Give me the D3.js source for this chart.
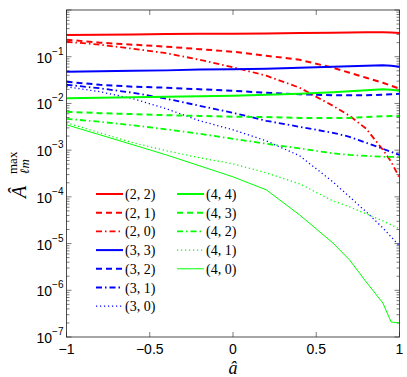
<!DOCTYPE html>
<html>
<head>
<meta charset="utf-8">
<script src="https://cdn.jsdelivr.net/npm/d3@7"></script>
<style>
  body { margin: 0; background: #fff; }
  svg { display: block; }
</style>
</head>
<body>
<svg width="407" height="377"></svg>
<script>
// spin parameter grid
const aHat = [-1, -0.8, -0.6, -0.4, -0.2, 0, 0.2, 0.4, 0.6, 0.7, 0.8, 0.9, 0.95, 1];

// max amplitude per (l,m) mode
const A22 = [0.29, 0.295, 0.30, 0.305, 0.31, 0.31, 0.315, 0.32, 0.325, 0.33, 0.335, 0.335, 0.33, 0.32];
const A21 = [0.231, 0.20, 0.181, 0.164, 0.145, 0.128, 0.105, 0.086, 0.058, 0.0454, 0.0355, 0.0277, 0.0239, 0.0206];
const A20 = [0.209, 0.181, 0.148, 0.119, 0.086, 0.0596, 0.0392, 0.0217, 0.0089, 0.00544, 0.00287, 0.00102, 0.000562, 0.000255];
const A33 = [0.0477, 0.049, 0.050, 0.051, 0.053, 0.054, 0.055, 0.058, 0.061, 0.0625, 0.064, 0.066, 0.064, 0.061];
const A32 = [0.0291, 0.0251, 0.0228, 0.0217, 0.0201, 0.0187, 0.0169, 0.0157, 0.0150, 0.0150, 0.0150, 0.0153, 0.0157, 0.0161];
const A31 = [0.0251, 0.0211, 0.0169, 0.0126, 0.0089, 0.0063, 0.00425, 0.00316, 0.00235, 0.00193, 0.00144, 0.00107, 0.00092, 0.00079];
const A30 = [0.0228, 0.0178, 0.0126, 0.00769, 0.00425, 0.00273, 0.00158, 0.000757, 0.00021, 0.0001, 0.0000477, 0.0000217, 0.0000139, 0.0000089];
const A44 = [0.0129, 0.0132, 0.0136, 0.0139, 0.0143, 0.0146, 0.0153, 0.0161, 0.0173, 0.0182, 0.0191, 0.0201, 0.0196, 0.0187];
const A43 = [0.0066, 0.0062, 0.0059, 0.0056, 0.0054, 0.0052, 0.0051, 0.0049, 0.0049, 0.0049, 0.0051, 0.0053, 0.0054, 0.0054];
const A42 = [0.00469, 0.00405, 0.0034, 0.00279, 0.00224, 0.00175, 0.00137, 0.00109, 0.000855, 0.00079, 0.000757, 0.00072, 0.00072, 0.00072];
const A41 = [0.00385, 0.00235, 0.00144, 0.00097, 0.000686, 0.00051, 0.000327, 0.00019, 0.000082, 0.0000611, 0.0000433, 0.0000306, 0.0000251, 0.0000206];
const A40 = [0.00349, 0.00213, 0.0013, 0.00079, 0.000461, 0.000268, 0.000141, 0.0000411, 0.0000103, 0.00000447, 0.00000151, 5.36e-7, 2.09e-7, 2.0e-7];

const modeLabels = ["(2, 2)", "(2, 1)", "(2, 0)", "(3, 3)", "(3, 2)", "(3, 1)", "(3, 0)",
                    "(4, 4)", "(4, 3)", "(4, 2)", "(4, 1)", "(4, 0)"];
const modeValues = [A22, A21, A20, A33, A32, A31, A30, A44, A43, A42, A41, A40];

const xTicks = [-1, -0.5, 0, 0.5, 1];
const yTickExps = [-7, -6, -5, -4, -3, -2, -1];

// styling: colour by l, line style by m
const colorOf = { 2: "#ff0000", 3: "#0000ff", 4: "#00ff00" };
const styles = {
  solid:   { dash: null, w: 2 },
  dashed:  { dash: "6,4", w: 2 },
  dashdot: { dash: "6,3,1.5,3", w: 1.8 },
  dotted:  { dash: "1.2,2.8", w: 1.3 },
  thin:    { dash: null, w: 1 }
};
const styleOf = ["solid", "dashed", "dashdot", "solid", "dashed", "dashdot", "dotted",
                 "solid", "dashed", "dashdot", "dotted", "thin"];

var svg = d3.select("svg"),
    margin = {left: 66.5, right: 7.5, top: 10, bottom: 40},
    width = 407 - margin.left - margin.right,
    height = 377 - margin.top - margin.bottom,
    g = svg.append("g").attr("transform", "translate(" + margin.left + "," + margin.top + ")");

var x = d3.scaleLinear().domain([-1, 1]).range([0, width]);
var y = d3.scaleLog().domain([1e-7, 1]).range([height, 0]);

// ticks (inward) on all four sides
var minorTicks = [];
for (let e = -7; e < 0; e++) for (let k = 1; k < 10; k++) minorTicks.push(k * Math.pow(10, e));
minorTicks.push(1);

var tickG = g.append("g").attr("stroke", "#222").attr("stroke-width", 0.6);
minorTicks.forEach(v => {
  const major = Math.abs(Math.log10(v) - Math.round(Math.log10(v))) < 1e-9;
  const len = major ? 5 : 3;
  tickG.append("line").attr("x1", 0).attr("x2", len).attr("y1", y(v)).attr("y2", y(v));
  tickG.append("line").attr("x1", width).attr("x2", width - len).attr("y1", y(v)).attr("y2", y(v));
});
xTicks.forEach(v => {
  tickG.append("line").attr("x1", x(v)).attr("x2", x(v)).attr("y1", height).attr("y2", height - 5);
  tickG.append("line").attr("x1", x(v)).attr("x2", x(v)).attr("y1", 0).attr("y2", 5);
});

// curves
var line = d3.line()
  .x((d, i) => x(aHat[i]))
  .y(d => y(d));

modeValues.forEach((vals, i) => {
  const l = +modeLabels[i][1];
  const st = styles[styleOf[i]];
  g.append("path")
    .attr("d", line(vals))
    .attr("fill", "none")
    .attr("stroke", colorOf[l])
    .attr("stroke-width", st.w)
    .attr("stroke-dasharray", st.dash)
    .attr("stroke-linejoin", "round");
});

// frame
g.append("rect").attr("width", width).attr("height", height)
  .attr("fill", "none").attr("stroke", "#222").attr("stroke-width", 0.8);

// tick labels
var sans = "Liberation Sans, Arial, sans-serif";
xTicks.forEach(v => {
  g.append("text")
    .attr("x", x(v)).attr("y", height + 17)
    .attr("text-anchor", "middle")
    .attr("font-family", sans).attr("font-size", 14)
    .text(v < 0 ? "\u2212" + Math.abs(v) : v);
});
yTickExps.forEach(e => {
  var t = g.append("text")
    .attr("x", -3).attr("y", y(Math.pow(10, e)) + 6)
    .attr("text-anchor", "end")
    .attr("font-family", sans).attr("font-size", 14);
  t.append("tspan").text("10");
  t.append("tspan").attr("dy", -8).attr("font-size", 10).text("\u2212" + Math.abs(e));
});

// axis labels
var serif = "Liberation Serif, 'DejaVu Serif', serif";
svg.append("text")
  .attr("x", margin.left + x(0)).attr("y", 374)
  .attr("text-anchor", "middle")
  .attr("font-family", serif).attr("font-style", "italic").attr("font-size", 18)
  .text("\u00e2");

var yl = svg.append("text")
  .attr("transform", "translate(26,198) rotate(-90)")
  .attr("font-family", serif).attr("font-size", 13);
yl.append("tspan").attr("font-style", "italic").attr("font-size", 20).text("\u00c2");
yl.append("tspan").attr("x", 24).attr("y", -9).text("max");
yl.append("tspan").attr("x", 24).attr("y", 3).attr("font-style", "italic").text("\u2113m");

// legend
var legend = g.append("g");
modeLabels.forEach((lab, i) => {
  const col = i < 7 ? 0 : 1;
  const row = i < 7 ? i : i - 7;
  const lx = col === 0 ? 96 - margin.left : 177 - margin.left;
  const ly = 194 - margin.top + row * 18.7;
  const l = +lab[1];
  const st = styles[styleOf[i]];
  legend.append("line")
    .attr("x1", lx).attr("x2", lx + 27).attr("y1", ly).attr("y2", ly)
    .attr("stroke", colorOf[l]).attr("stroke-width", st.w)
    .attr("stroke-dasharray", st.dash);
  legend.append("text")
    .attr("x", lx + 29).attr("y", ly + 5)
    .attr("font-family", serif).attr("font-size", 14)
    .text(lab);
});
</script>
</body>
</html>
